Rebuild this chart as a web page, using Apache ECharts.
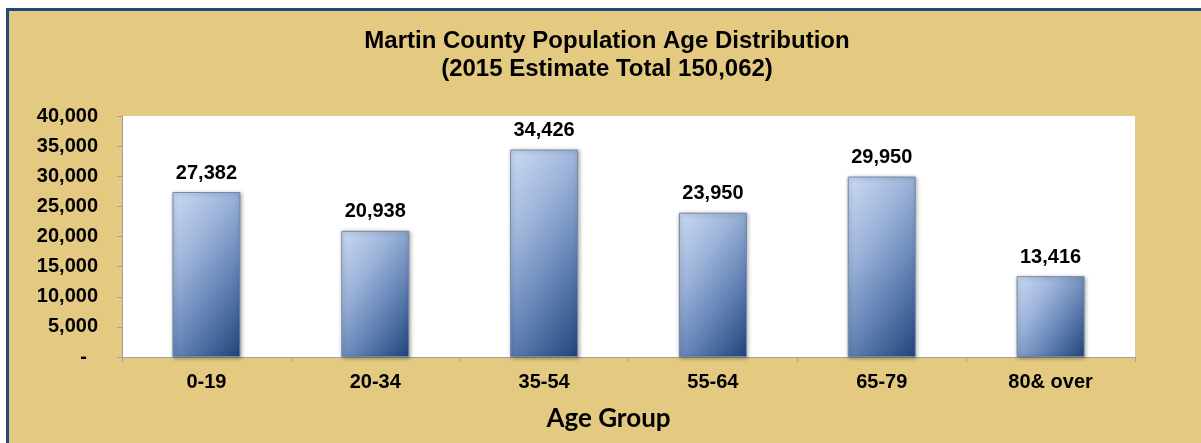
<!DOCTYPE html>
<html>
<head>
<meta charset="utf-8">
<script src="https://cdn.jsdelivr.net/npm/echarts@6/dist/echarts.min.js"></script>
<style>
  html, body { margin: 0; padding: 0; background: #ffffff; }
  #wrap { position: relative; width: 1201px; height: 443px; overflow: hidden; }
  #frame { position: absolute; left: 6px; top: 8px; width: 1300px; height: 500px;
           background: #E3CA80; border-left: 3px solid #1F497D; border-top: 3px solid #1F497D; }
  #chart { position: absolute; left: 0; top: 0; width: 1201px; height: 443px; }
</style>
</head>
<body>
<div id="wrap"><div id="frame"></div><div id="chart"></div></div>
<script>
const titleLines = ['Martin County Population Age Distribution', '(2015 Estimate Total 150,062)'];
const categories = ['0-19', '20-34', '35-54', '55-64', '65-79', '80& over'];
const population = [27382, 20938, 34426, 23950, 29950, 13416];
const axisTitle = 'Age Group';

const fmt = v => v.toString().replace(/\B(?=(\d{3})+(?!\d))/g, ',');
const FONT = '"Liberation Sans", Arial, sans-serif';

const Y_MAX = 40000;
const GRID = { left: 122, right: 66, top: 116, bottom: 86 };
const PLOT_H = 443 - GRID.top - GRID.bottom;
const BAR_W = 68;

// Gradient at a fixed on-screen angle, normalised to each bar's extent
function barGradient(value) {
  const w = BAR_W, h = Math.max(1, value / Y_MAX * PLOT_H);
  const th = 35 * Math.PI / 180, c = Math.cos(th), s = Math.sin(th);
  const L = w * c + h * s;
  const p = c * L / w, q = s * L / h;
  return new echarts.graphic.LinearGradient(0, 0, p, q, [
    { offset: 0, color: '#CCDBF3' },
    { offset: 0.35, color: '#9AB1D8' },
    { offset: 0.68, color: '#5C7CB0' },
    { offset: 1, color: '#22447A' }
  ]);
}

const chart = echarts.init(document.getElementById('chart'), null, { renderer: 'canvas' });
chart.setOption({
  backgroundColor: 'transparent',
  animation: false,
  graphic: [
    { type: 'text', x: 607, y: 41,
      style: { text: titleLines[0], fill: '#000', font: 'bold 24px ' + FONT,
               textAlign: 'center', textVerticalAlign: 'middle' } },
    { type: 'text', x: 607, y: 69,
      style: { text: titleLines[1], fill: '#000', font: 'bold 24px ' + FONT,
               textAlign: 'center', textVerticalAlign: 'middle' } }
  ],
  grid: Object.assign({ show: true, backgroundColor: '#ffffff', borderWidth: 0 }, GRID),
  xAxis: {
    type: 'category',
    data: categories,
    axisLine: { lineStyle: { color: '#A0A0A0', width: 1 } },
    axisTick: { show: true, length: 5, lineStyle: { color: '#A0A0A0' } },
    axisLabel: { color: '#000', fontWeight: 'bold', fontSize: 20, fontFamily: FONT, margin: 15 },
    name: axisTitle,
    nameLocation: 'middle',
    nameGap: 49,
    nameTextStyle: { color: '#000', fontWeight: 'bold', fontSize: 26, fontFamily: 'Lato, "Open Sans", sans-serif', padding: [0, 40, 0, 0] }
  },
  yAxis: {
    type: 'value',
    min: 0, max: Y_MAX, interval: 5000,
    axisLine: { show: true, lineStyle: { color: '#A0A0A0', width: 1 } },
    axisTick: { show: true, length: 5, lineStyle: { color: '#A0A0A0' } },
    splitLine: { show: false },
    axisLabel: { color: '#000', fontWeight: 'bold', fontSize: 20, fontFamily: FONT, margin: 24,
                 formatter: v => v === 0 ? '-  ' : fmt(v) }
  },
  series: [{
    type: 'bar',
    data: population,
    barWidth: BAR_W,
    itemStyle: {
      color: params => barGradient(params.value),
      borderColor: '#7388A8', borderWidth: 1,
      shadowBlur: 4, shadowColor: 'rgba(0,0,0,0.35)', shadowOffsetX: 1, shadowOffsetY: 1
    },
    label: {
      show: true, position: 'top', distance: 9,
      color: '#000', fontWeight: 'bold', fontSize: 20, fontFamily: FONT,
      formatter: p => fmt(p.value)
    }
  }]
});
</script>
</body>
</html>
